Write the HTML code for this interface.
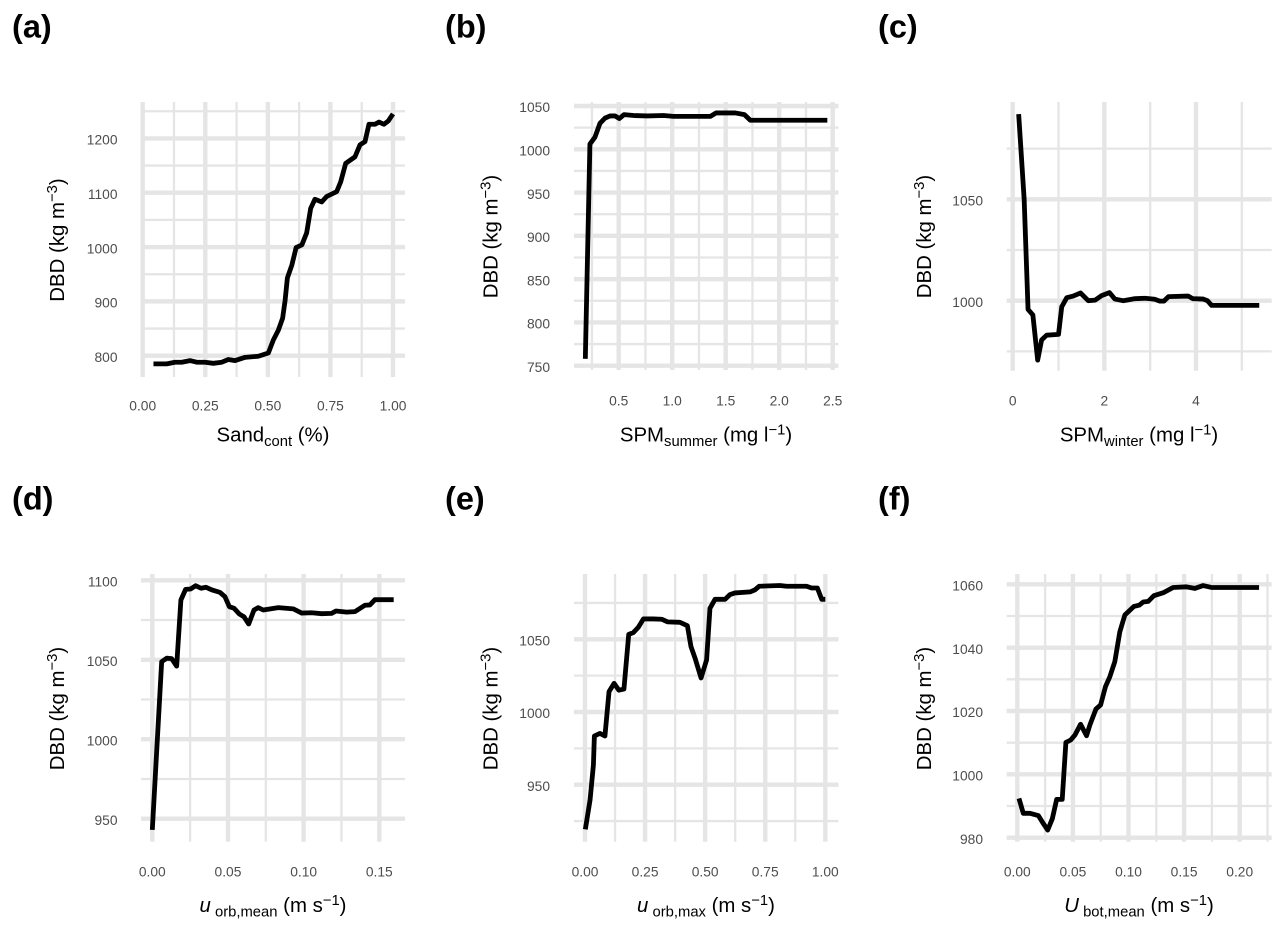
<!DOCTYPE html>
<html lang="en">
<head>
<meta charset="utf-8">
<title>DBD partial dependence panels</title>
<style>
html,body{margin:0;padding:0;background:#fff;}
svg{display:block;font-family:"Liberation Sans",Arial,sans-serif;}
.tag{font-size:32.5px;font-weight:bold;fill:#000;}
.title{font-size:20.4px;fill:#000;}
.tick{font-size:13.8px;fill:#4d4d4d;}
</style>
</head>
<body>
<svg id="figure" xmlns="http://www.w3.org/2000/svg" width="1285" height="931" viewBox="0 0 1285 931">
  <rect width="1285" height="931" fill="#fff"/>

  <g id="panel-a">
    <text class="tag" x="12" y="37.5">(a)</text>
    <text class="title" text-anchor="middle" x="273" y="441.5">Sand<tspan font-size="14.8" dy="4.5">cont</tspan><tspan dy="-4.5"> (%)</tspan></text>
    <text class="title" text-anchor="middle" transform="translate(64,240) rotate(-90)">DBD (kg m<tspan font-size="14.8" dy="-7">−3</tspan><tspan dy="7">)</tspan></text>
  </g>
  <g id="panel-b">
    <text class="tag" x="445" y="37.5">(b)</text>
    <text class="title" text-anchor="middle" x="706" y="441.5">SPM<tspan font-size="14.8" dy="4.5">summer</tspan><tspan dy="-4.5"> (mg l</tspan><tspan font-size="14.8" dy="-7">−1</tspan><tspan dy="7">)</tspan></text>
    <text class="title" text-anchor="middle" transform="translate(497.5,236.5) rotate(-90)">DBD (kg m<tspan font-size="14.8" dy="-7">−3</tspan><tspan dy="7">)</tspan></text>
  </g>
  <g id="panel-c">
    <text class="tag" x="878" y="37.5">(c)</text>
    <text class="title" text-anchor="middle" x="1139" y="441.5">SPM<tspan font-size="14.8" dy="4.5">winter</tspan><tspan dy="-4.5"> (mg l</tspan><tspan font-size="14.8" dy="-7">−1</tspan><tspan dy="7">)</tspan></text>
    <text class="title" text-anchor="middle" transform="translate(931,236.5) rotate(-90)">DBD (kg m<tspan font-size="14.8" dy="-7">−3</tspan><tspan dy="7">)</tspan></text>
  </g>
  <g id="panel-d">
    <text class="tag" x="12" y="509.5">(d)</text>
    <text class="title" text-anchor="middle" x="273" y="912"><tspan font-style="italic">u</tspan><tspan font-size="14.8" dy="4.5"> orb,mean</tspan><tspan dy="-4.5"> (m s</tspan><tspan font-size="14.8" dy="-7">−1</tspan><tspan dy="7">)</tspan></text>
    <text class="title" text-anchor="middle" transform="translate(64,708.5) rotate(-90)">DBD (kg m<tspan font-size="14.8" dy="-7">−3</tspan><tspan dy="7">)</tspan></text>
  </g>
  <g id="panel-e">
    <text class="tag" x="445" y="509.5">(e)</text>
    <text class="title" text-anchor="middle" x="706" y="912"><tspan font-style="italic">u</tspan><tspan font-size="14.8" dy="4.5"> orb,max</tspan><tspan dy="-4.5"> (m s</tspan><tspan font-size="14.8" dy="-7">−1</tspan><tspan dy="7">)</tspan></text>
    <text class="title" text-anchor="middle" transform="translate(497.5,708.5) rotate(-90)">DBD (kg m<tspan font-size="14.8" dy="-7">−3</tspan><tspan dy="7">)</tspan></text>
  </g>
  <g id="panel-f">
    <text class="tag" x="878" y="509.5">(f)</text>
    <text class="title" text-anchor="middle" x="1139" y="912"><tspan font-style="italic">U</tspan><tspan font-size="14.8" dy="4.5"> bot,mean</tspan><tspan dy="-4.5"> (m s</tspan><tspan font-size="14.8" dy="-7">−1</tspan><tspan dy="7">)</tspan></text>
    <text class="title" text-anchor="middle" transform="translate(931,708.5) rotate(-90)">DBD (kg m<tspan font-size="14.8" dy="-7">−3</tspan><tspan dy="7">)</tspan></text>
  </g>
</svg>

<script>
// Panel (a) Sand content
var sandX = [0.043,0.096,0.129,0.156,0.189,0.216,0.249,0.282,0.316,0.342,0.369,0.409,0.462,0.502,0.522,0.542,0.559,0.569,0.578,0.596,0.613,0.636,0.655,0.671,0.688,0.715,0.735,0.775,0.791,0.811,0.848,0.868,0.888,0.904,0.928,0.944,0.964,0.981,1.0];
var sandDBD = [785,785,788,788,791,788,788,786,788,793,791,797,799,805,829,847,869,902,943,967,999,1004,1026,1071,1088,1083,1093,1102,1120,1154,1166,1188,1194,1226,1226,1230,1226,1232,1245];
var sandXMajor = ["0.00","0.25","0.50","0.75","1.00"];
var sandXMinor = [0.125,0.375,0.625,0.875];
var sandYMajor = ["800","900","1000","1100","1200"];
var sandYMinor = [850,950,1050,1150,1250];

// Panel (b) SPM summer
var summerX = [0.188,0.231,0.278,0.325,0.372,0.419,0.466,0.506,0.55,0.64,0.7625,0.92,1.0125,1.356,1.41,1.59,1.675,1.73,2.45];
var summerDBD = [758,1006,1014,1030,1036,1038.5,1038.5,1035.5,1040,1039,1038.5,1039,1038,1038,1042,1042,1040,1033.5,1033.5];
var summerXMajor = ["0.5","1.0","1.5","2.0","2.5"];
var summerXMinor = [0.25,0.75,1.25,1.75,2.25];
var summerYMajor = ["750","800","850","900","950","1000","1050"];
var summerYMinor = [775,825,875,925,975,1025];

// Panel (c) SPM winter
var winterX = [0.13,0.25,0.335,0.44,0.545,0.63,0.74,1.0,1.07,1.18,1.32,1.48,1.65,1.8,1.94,2.11,2.23,2.41,2.67,2.89,3.1,3.21,3.3,3.4,3.83,3.93,4.16,4.25,4.34,5.38];
var winterDBD = [1092,1050,995.7,993,970.7,980.6,983,983.4,997,1001.5,1002.3,1003.8,1000,1000.3,1002.5,1004,1000.8,1000,1001,1001.2,1000.7,999.8,999.8,1002,1002.3,1001,1000.8,1000,997.7,997.7];
var winterXMajor = ["0","2","4"];
var winterXMinor = [1,3,5];
var winterYMajor = ["1000","1050"];
var winterYMinor = [975,1025,1075];

// Panel (d) u orb,mean
var orbMeanX = [0,0.0062,0.0095,0.0128,0.0161,0.0189,0.022,0.0253,0.0286,0.0322,0.0355,0.0392,0.0447,0.048,0.0509,0.054,0.0575,0.0606,0.0637,0.0672,0.07,0.0733,0.0833,0.0932,0.0987,0.1053,0.1119,0.1185,0.1214,0.1284,0.1339,0.1405,0.1438,0.1471,0.1595];
var orbMeanDBD = [943,1048.8,1051,1050.7,1046,1087.6,1094.3,1094.5,1096.6,1095,1095.6,1094,1092.4,1089.7,1083.4,1082.4,1078.8,1077,1072.5,1081.3,1082.8,1081.3,1082.8,1082,1079.4,1079.6,1079,1079.2,1080.7,1080,1080.3,1084.3,1084.5,1087.8,1087.8];
var orbMeanXMajor = ["0.00","0.05","0.10","0.15"];
var orbMeanXMinor = [0.025,0.075,0.125];
var orbMeanYMajor = ["950","1000","1050","1100"];
var orbMeanYMinor = [975,1025,1075];

// Panel (e) u orb,max
var orbMaxX = [0.0014,0.021,0.035,0.039,0.062,0.083,0.1,0.121,0.141,0.162,0.182,0.201,0.222,0.243,0.284,0.319,0.343,0.395,0.426,0.441,0.458,0.483,0.506,0.52,0.541,0.583,0.603,0.624,0.687,0.707,0.725,0.811,0.839,0.922,0.943,0.967,0.985,1.0];
var orbMaxDBD = [919.3,939.5,963.5,983.5,985.3,983.5,1014,1019.7,1015,1015.8,1053.4,1054.6,1058.3,1064,1064,1063.8,1062,1061.7,1059.4,1045,1037,1023.4,1035.8,1071.3,1077.5,1077.5,1080.7,1081.9,1082.6,1084,1086.5,1087,1086.5,1086.5,1085.3,1085.3,1077.5,1077.5];
var orbMaxXMajor = ["0.00","0.25","0.50","0.75","1.00"];
var orbMaxXMinor = [0.125,0.375,0.625,0.875];
var orbMaxYMajor = ["950","1000","1050"];
var orbMaxYMinor = [925,975,1025,1075];

// Panel (f) U bot,mean
var botMeanX = [0.0015,0.0054,0.0114,0.0189,0.0228,0.0273,0.0315,0.0354,0.0404,0.0437,0.0479,0.0518,0.0569,0.0623,0.0653,0.0707,0.0749,0.0793,0.0832,0.0877,0.0922,0.0967,0.1048,0.1096,0.1132,0.1177,0.1228,0.1317,0.1401,0.1521,0.1596,0.1671,0.1746,0.2174];
var botMeanDBD = [992.4,987.7,987.7,987,984.8,982.4,986,992.1,992.1,1010.1,1010.8,1012.4,1015.8,1012.2,1015.6,1020.6,1021.9,1027.7,1030.8,1035.6,1045,1050.3,1053,1053.4,1054.4,1054.6,1056.4,1057.4,1059,1059.2,1058.7,1059.6,1059,1059];
var botMeanXMajor = ["0.00","0.05","0.10","0.15","0.20"];
var botMeanXMinor = [0.025,0.075,0.125,0.175,0.225];
var botMeanYMajor = ["980","1000","1020","1040","1060"];
var botMeanYMinor = [990,1010,1030,1050];

var SVGNS = "http://www.w3.org/2000/svg";

function linearScale(d0, d1, p0, p1) {
  return function (v) { return p0 + (v - d0) / (d1 - d0) * (p1 - p0); };
}

function drawGridLine(parent, x1, y1, x2, y2, width, name) {
  var line = document.createElementNS(SVGNS, "line");
  line.setAttribute("x1", x1);
  line.setAttribute("y1", y1);
  line.setAttribute("x2", x2);
  line.setAttribute("y2", y2);
  line.setAttribute("stroke", "#e5e5e5");
  line.setAttribute("stroke-width", width);
  
  
  parent.appendChild(line);
}

function drawTickLabel(parent, x, y, anchor, label, name) {
  var t = document.createElementNS(SVGNS, "text");
  t.setAttribute("class", "tick");
  t.setAttribute("x", x);
  t.setAttribute("y", y);
  t.setAttribute("text-anchor", anchor);
  t.textContent = label;
  
  
  parent.appendChild(t);
}

function drawPanel(id, box, xs, ys, xMajor, xMinor, yMajor, yMinor, dataX, dataY) {
  var host = document.getElementById(id);
  var g = document.createElementNS(SVGNS, "g");
  
  
  host.insertBefore(g, host.firstChild);
  var i;
  for (i = 0; i < xMinor.length; i++) {
    drawGridLine(g, xs(xMinor[i]), box.top, xs(xMinor[i]), box.bottom, 2.3, id + "-x-minor-gridline");
  }
  for (i = 0; i < yMinor.length; i++) {
    drawGridLine(g, box.left, ys(yMinor[i]), box.right, ys(yMinor[i]), 2.3, id + "-y-minor-gridline");
  }
  for (i = 0; i < xMajor.length; i++) {
    var xv = parseFloat(xMajor[i]);
    drawGridLine(g, xs(xv), box.top, xs(xv), box.bottom, 4.4, id + "-x-major-gridline");
    drawTickLabel(g, xs(xv), box.xLabelY, "middle", xMajor[i], id + "-x-tick-label");
  }
  for (i = 0; i < yMajor.length; i++) {
    var yv = parseFloat(yMajor[i]);
    drawGridLine(g, box.left, ys(yv), box.right, ys(yv), 4.4, id + "-y-major-gridline");
    drawTickLabel(g, box.yLabelX, ys(yv) + 6.2, "end", yMajor[i], id + "-y-tick-label");
  }
  var pts = [];
  for (i = 0; i < dataX.length; i++) {
    pts.push(xs(dataX[i]).toFixed(2) + "," + ys(dataY[i]).toFixed(2));
  }
  var curve = document.createElementNS(SVGNS, "polyline");
  curve.setAttribute("points", pts.join(" "));
  curve.setAttribute("fill", "none");
  curve.setAttribute("stroke", "#000");
  curve.setAttribute("stroke-width", "4.8");
  curve.setAttribute("stroke-linejoin", "round");
  curve.setAttribute("stroke-linecap", "butt");
  
  
  g.appendChild(curve);
}

drawPanel("panel-a", {left:141, right:405, top:102, bottom:377, xLabelY:410.5, yLabelX:117.5},
  linearScale(0, 1, 142.7, 393), linearScale(800, 1200, 355.7, 138.4),
  sandXMajor, sandXMinor, sandYMajor, sandYMinor, sandX, sandDBD);

drawPanel("panel-b", {left:574, right:838.5, top:102, bottom:370, xLabelY:405.5, yLabelX:550},
  linearScale(0.5, 2.5, 618.7, 832.7), linearScale(750, 1050, 365.7, 106),
  summerXMajor, summerXMinor, summerYMajor, summerYMinor, summerX, summerDBD);

drawPanel("panel-c", {left:1006.7, right:1271.7, top:102, bottom:370.7, xLabelY:405.5, yLabelX:983},
  linearScale(0, 4, 1012.7, 1196), linearScale(1000, 1050, 300.7, 199.3),
  winterXMajor, winterXMinor, winterYMajor, winterYMinor, winterX, winterDBD);

drawPanel("panel-d", {left:141, right:405, top:574, bottom:841.7, xLabelY:876.5, yLabelX:117.5},
  linearScale(0, 0.15, 152.3, 379.3), linearScale(950, 1100, 818.7, 580.3),
  orbMeanXMajor, orbMeanXMinor, orbMeanYMajor, orbMeanYMinor, orbMeanX, orbMeanDBD);

drawPanel("panel-e", {left:574, right:838.5, top:574, bottom:841.7, xLabelY:876.5, yLabelX:550},
  linearScale(0, 1, 585, 825.3), linearScale(950, 1050, 784.7, 639.3),
  orbMaxXMajor, orbMaxXMinor, orbMaxYMajor, orbMaxYMinor, orbMaxX, orbMaxDBD);

drawPanel("panel-f", {left:1006.7, right:1271.7, top:574, bottom:841.7, xLabelY:876.5, yLabelX:983},
  linearScale(0, 0.2, 1017.3, 1239.7), linearScale(980, 1060, 837.7, 584.3),
  botMeanXMajor, botMeanXMinor, botMeanYMajor, botMeanYMinor, botMeanX, botMeanDBD);
</script>
</body>
</html>
